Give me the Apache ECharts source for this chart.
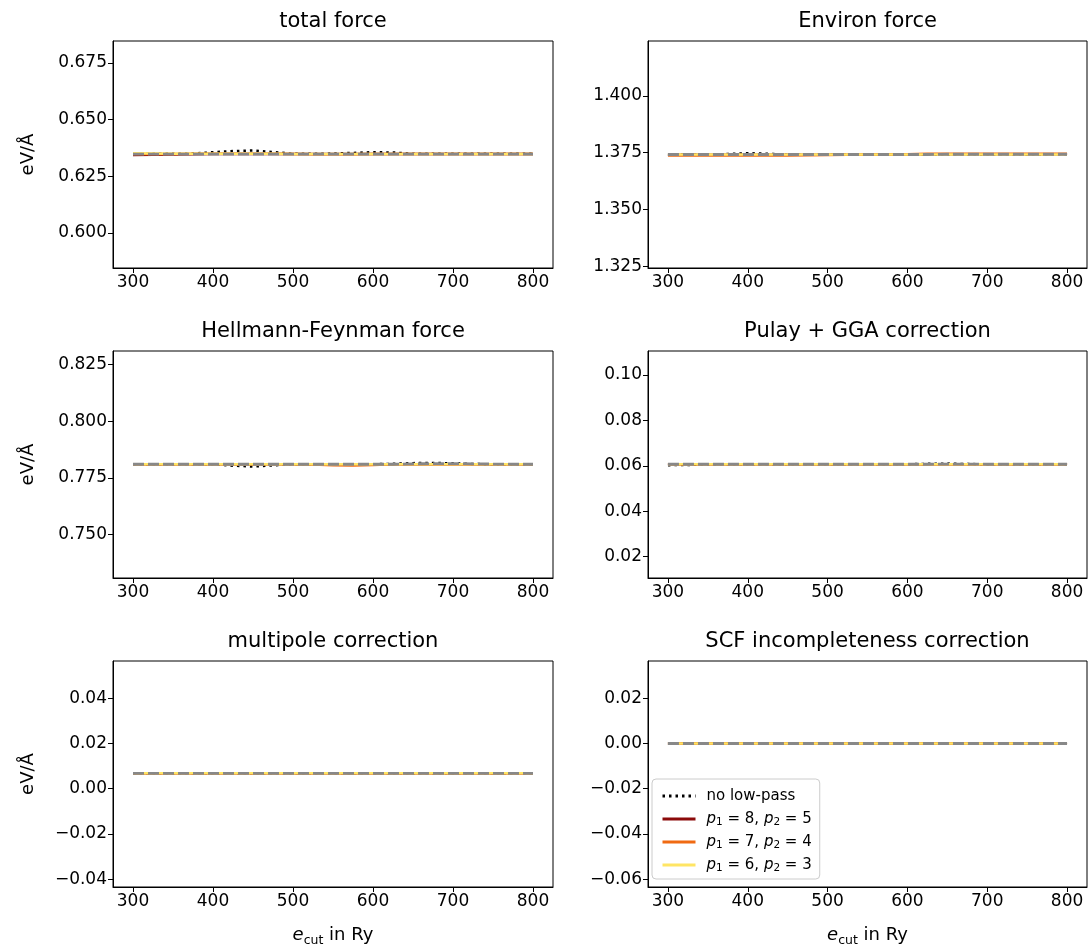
<!DOCTYPE html>
<html><head><meta charset="utf-8">
<script src="https://cdn.jsdelivr.net/npm/echarts@6/dist/echarts.min.js"></script>
<style>html,body{margin:0;padding:0;background:#fff}#c{width:1090px;height:948px}</style>
</head><body><div id="c"></div>
<script>
// x values (cutoff energy in Ry)
const ecut = [300,325,350,375,400,425,450,475,500,525,550,575,600,625,650,675,700,725,750,775,800];
const xTicks = [300,400,500,600,700,800];

// panel titles
const titles = ["total force","Environ force","Hellmann-Feynman force","Pulay + GGA correction","multipole correction","SCF incompleteness correction"];

// total force
const tfNoLP = [0.6348,0.6349,0.6349,0.6350,0.6356,0.6361,0.6364,0.6357,0.6349,0.6349,0.6350,0.6353,0.6356,0.6355,0.6349,0.6349,0.6349,0.6349,0.6349,0.6349,0.6349];
const tfP85  = [0.6344,0.6345,0.6346,0.6347,0.6348,0.6348,0.6348,0.6348,0.6348,0.6348,0.6348,0.6348,0.6348,0.6348,0.6348,0.6348,0.6348,0.6348,0.6348,0.6348,0.6348];
const tfP74  = [0.6348,0.6348,0.6348,0.6349,0.6349,0.6349,0.6349,0.6349,0.6348,0.6347,0.6347,0.6347,0.6348,0.6348,0.6348,0.6348,0.6348,0.6348,0.6348,0.6348,0.6348];
const tfP63  = [0.6351,0.6350,0.6349,0.6349,0.6349,0.6349,0.6349,0.6349,0.6348,0.6348,0.6348,0.6348,0.6348,0.6348,0.6348,0.6348,0.6348,0.6348,0.6348,0.6348,0.6348];
const tfRef  = [0.6348,0.6348,0.6348,0.6348,0.6348,0.6348,0.6348,0.6348,0.6348,0.6348,0.6348,0.6348,0.6348,0.6348,0.6348,0.6348,0.6348,0.6348,0.6348,0.6348,0.6348];

// Environ force
const efNoLP = [1.3742,1.3742,1.3742,1.3744,1.3748,1.3745,1.3742,1.3742,1.3742,1.3742,1.3742,1.3742,1.3742,1.3742,1.3742,1.3742,1.3742,1.3742,1.3742,1.3742,1.3742];
const efP85  = [1.3741,1.3741,1.3741,1.3741,1.3741,1.3741,1.3741,1.3741,1.3741,1.3741,1.3742,1.3742,1.3742,1.3743,1.3743,1.3743,1.3743,1.3743,1.3743,1.3743,1.3743];
const efP74  = [1.3738,1.3738,1.3738,1.3738,1.3738,1.3738,1.3738,1.3739,1.3740,1.3741,1.3741,1.3742,1.3743,1.3745,1.3745,1.3745,1.3745,1.3745,1.3745,1.3745,1.3745];
const efP63  = [1.3742,1.3742,1.3742,1.3742,1.3742,1.3742,1.3742,1.3742,1.3742,1.3742,1.3742,1.3742,1.3742,1.3742,1.3742,1.3742,1.3742,1.3742,1.3742,1.3742,1.3742];
const efRef  = [1.3742,1.3742,1.3742,1.3742,1.3742,1.3742,1.3742,1.3742,1.3742,1.3742,1.3742,1.3742,1.3742,1.3742,1.3743,1.3743,1.3743,1.3743,1.3743,1.3743,1.3743];

// Hellmann-Feynman force
const hfNoLP = [0.7810,0.7810,0.7810,0.7810,0.7810,0.7804,0.7800,0.7805,0.7810,0.7810,0.7810,0.7810,0.7810,0.7812,0.7815,0.7816,0.7814,0.7811,0.7810,0.7810,0.7810];
const hfP85  = [0.7810,0.7810,0.7810,0.7810,0.7810,0.7810,0.7810,0.7810,0.7810,0.7810,0.7810,0.7810,0.7810,0.7810,0.7810,0.7810,0.7810,0.7810,0.7810,0.7810,0.7810];
const hfP74  = [0.7810,0.7810,0.7810,0.7810,0.7810,0.7810,0.7810,0.7810,0.7810,0.7809,0.7806,0.7805,0.7807,0.7810,0.7810,0.7810,0.7810,0.7810,0.7810,0.7810,0.7810];
const hfP63  = [0.7810,0.7810,0.7810,0.7810,0.7810,0.7810,0.7810,0.7810,0.7810,0.7810,0.7810,0.7810,0.7810,0.7810,0.7810,0.7810,0.7810,0.7810,0.7810,0.7810,0.7810];
const hfRef  = [0.7810,0.7810,0.7810,0.7810,0.7810,0.7810,0.7810,0.7810,0.7810,0.7810,0.7810,0.7810,0.7810,0.7810,0.7812,0.7813,0.7813,0.7812,0.7811,0.7810,0.7810];

// Pulay + GGA correction
const pgNoLP = [0.0603,0.0604,0.0606,0.0607,0.0607,0.0607,0.0607,0.0607,0.0607,0.0607,0.0607,0.0607,0.0607,0.0609,0.0610,0.0608,0.0607,0.0607,0.0607,0.0607,0.0607];
const pgP85  = [0.0607,0.0607,0.0607,0.0607,0.0607,0.0607,0.0607,0.0607,0.0607,0.0607,0.0607,0.0607,0.0607,0.0607,0.0607,0.0607,0.0607,0.0607,0.0607,0.0607,0.0607];
const pgP74  = [0.0607,0.0607,0.0607,0.0607,0.0607,0.0607,0.0607,0.0607,0.0607,0.0607,0.0607,0.0607,0.0607,0.0607,0.0607,0.0607,0.0607,0.0607,0.0607,0.0607,0.0607];
const pgP63  = [0.0607,0.0607,0.0607,0.0607,0.0607,0.0607,0.0607,0.0607,0.0607,0.0607,0.0607,0.0607,0.0607,0.0607,0.0607,0.0607,0.0607,0.0607,0.0607,0.0607,0.0607];
const pgRef  = [0.0607,0.0607,0.0607,0.0607,0.0607,0.0607,0.0607,0.0607,0.0607,0.0607,0.0607,0.0607,0.0607,0.0607,0.0608,0.0608,0.0607,0.0607,0.0607,0.0607,0.0607];

// multipole correction
const mpNoLP = [0.0068,0.0068,0.0068,0.0068,0.0068,0.0068,0.0068,0.0068,0.0068,0.0068,0.0068,0.0068,0.0068,0.0068,0.0068,0.0068,0.0068,0.0068,0.0068,0.0068,0.0068];
const mpP85  = [0.0068,0.0068,0.0068,0.0068,0.0068,0.0068,0.0068,0.0068,0.0068,0.0068,0.0068,0.0068,0.0068,0.0068,0.0068,0.0068,0.0068,0.0068,0.0068,0.0068,0.0068];
const mpP74  = [0.0068,0.0068,0.0068,0.0068,0.0068,0.0068,0.0068,0.0068,0.0068,0.0068,0.0068,0.0068,0.0068,0.0068,0.0068,0.0068,0.0068,0.0068,0.0068,0.0068,0.0068];
const mpP63  = [0.0068,0.0068,0.0068,0.0068,0.0068,0.0068,0.0068,0.0068,0.0068,0.0068,0.0068,0.0068,0.0068,0.0068,0.0068,0.0068,0.0068,0.0068,0.0068,0.0068,0.0068];
const mpRef  = [0.0068,0.0068,0.0068,0.0068,0.0068,0.0068,0.0068,0.0068,0.0068,0.0068,0.0068,0.0068,0.0068,0.0068,0.0068,0.0068,0.0068,0.0068,0.0068,0.0068,0.0068];

// SCF incompleteness correction
const scNoLP = [0,0,0,0,0,0,0,0,0,0,0,0,0,0,0,0,0,0,0,0,0];
const scP85  = [0,0,0,0,0,0,0,0,0,0,0,0,0,0,0,0,0,0,0,0,0];
const scP74  = [0,0,0,0,0,0,0,0,0,0,0,0,0,0,0,0,0,0,0,0,0];
const scP63  = [0,0,0,0,0,0,0,0,0,0,0,0,0,0,0,0,0,0,0,0,0];
const scRef  = [0,0,0,0,0,0,0,0,0,0,0,0,0,0,0,0,0,0,0,0,0];

// axis ranges and ticks
const yMin = [0.5846, 1.3242, 0.7309, 0.0106, -0.0435, -0.0635];
const yMax = [0.6846, 1.4242, 0.8309, 0.1106, 0.0565, 0.0365];
const yTicks = [
  [0.600,0.625,0.650,0.675],
  [1.325,1.350,1.375,1.400],
  [0.750,0.775,0.800,0.825],
  [0.02,0.04,0.06,0.08,0.10],
  [-0.04,-0.02,0.00,0.02,0.04],
  [-0.06,-0.04,-0.02,0.00,0.02]
];
const yDecimals = [3,3,3,2,2,2];

const seriesNames = ["no low-pass","p85","p74","p63"];
const panelData = [
  [tfNoLP,tfP85,tfP74,tfP63,tfRef],
  [efNoLP,efP85,efP74,efP63,efRef],
  [hfNoLP,hfP85,hfP74,hfP63,hfRef],
  [pgNoLP,pgP85,pgP74,pgP63,pgRef],
  [mpNoLP,mpP85,mpP74,mpP63,mpRef],
  [scNoLP,scP85,scP74,scP63,scRef]
];

const FONT = "DejaVu Sans";
const TICK = 17, TITLE = 21, LABEL = 18, LEG = 15;
const colors = ["#000000","#8b0a0a","#f06a12","#ffe564","#888888"];
const gridLeft = [113, 648], gridW = [440, 439];
const gridTop = [41, 351, 661], gridH = 227;

const grids = [], xAxes = [], yAxes = [], series = [], graphics = [];
for (let p = 0; p < 6; p++) {
  const col = p % 2, row = Math.floor(p / 2);
  grids.push({left: gridLeft[col], top: gridTop[row], width: gridW[col], height: gridH,
    show: true, borderColor: "#000", borderWidth: 1, backgroundColor: "#fff", containLabel: false});
  const xa = {gridIndex: p, type: "value", min: 275, max: 825,
    axisLine: {show: true, onZero: false, lineStyle: {color: "#000", width: 1}},
    axisTick: {show: true, length: 5, customValues: xTicks, lineStyle: {color: "#000"}},
    axisLabel: {customValues: xTicks, color: "#000", fontFamily: FONT, fontSize: TICK, margin: 6},
    splitLine: {show: false}};
  if (row === 2) {
    xa.name = "{i|e}{s|cut}{t| in Ry}";
    xa.nameLocation = "middle";
    xa.nameGap = 37;
    xa.nameTextStyle = {color: "#000", fontFamily: FONT, fontSize: LABEL,
      rich: {t: {fontFamily: FONT, fontSize: LABEL, color: "#000", lineHeight: 23},
             i: {fontStyle: "italic", fontFamily: FONT, fontSize: LABEL, color: "#000", lineHeight: 23},
             s: {fontFamily: FONT, fontSize: 12.5, color: "#000", verticalAlign: "bottom", lineHeight: 23}}};
  }
  xAxes.push(xa);
  const dec = yDecimals[p];
  const ya = {gridIndex: p, type: "value", min: yMin[p], max: yMax[p],
    axisLine: {show: true, onZero: false, lineStyle: {color: "#000", width: 1}},
    axisTick: {show: true, length: 5, customValues: yTicks[p], lineStyle: {color: "#000"}},
    axisLabel: {customValues: yTicks[p], color: "#000", fontFamily: FONT, fontSize: TICK, margin: 6,
      formatter: v => (v < -1e-9 ? "\u2212" : "") + Math.abs(v).toFixed(dec)},
    splitLine: {show: false}};
  if (col === 0) {
    ya.name = "eV/Å";
    ya.nameLocation = "middle";
    ya.nameRotate = 90;
    ya.nameGap = 76;
    ya.nameTextStyle = {color: "#000", fontFamily: FONT, fontSize: LABEL};
  }
  yAxes.push(ya);
  for (let s = 0; s < 5; s++) {
    const d = panelData[p][s].map((v, i) => [ecut[i], v]);
    let ls;
    if (s === 0) ls = {color: colors[0], width: 2.5, type: [2.5, 4]};
    else if (s === 4) ls = {color: colors[4], width: 2.8, type: [11, 4]};
    else ls = {color: colors[s], width: 2.5};
    series.push({type: "line", name: s < 4 ? seriesNames[s] : "reference",
      xAxisIndex: p, yAxisIndex: p, data: d, symbol: "none", showSymbol: false,
      lineStyle: ls, itemStyle: {color: colors[s]}, animation: false, silent: true, z: 2 + s});
  }
  graphics.push({type: "text", x: gridLeft[col] + gridW[col] / 2, y: gridTop[row] - 19,
    style: {text: titles[p], textAlign: "center", textVerticalAlign: "middle",
      fontFamily: FONT, fontSize: TITLE, fill: "#000"}});
}

const legendRich = {
  g: {width: 6},
  t: {fontFamily: FONT, fontSize: LEG, color: "#000", lineHeight: 18},
  i: {fontFamily: FONT, fontSize: LEG, fontStyle: "italic", color: "#000", lineHeight: 18},
  s: {fontFamily: FONT, fontSize: 10.5, color: "#000", verticalAlign: "bottom", lineHeight: 18}
};
const legendLabels = {
  "no low-pass": "{g|}{t|no low-pass}",
  "p85": "{g|}{i|p}{s|1}{t| = 8, }{i|p}{s|2}{t| = 5}",
  "p74": "{g|}{i|p}{s|1}{t| = 7, }{i|p}{s|2}{t| = 4}",
  "p63": "{g|}{i|p}{s|1}{t| = 6, }{i|p}{s|2}{t| = 3}"
};

const chart = echarts.init(document.getElementById("c"), null, {renderer: "canvas"});
chart.setOption({
  backgroundColor: "#fff",
  animation: false,
  grid: grids, xAxis: xAxes, yAxis: yAxes, series: series,
  graphic: graphics,
  legend: {data: seriesNames, orient: "vertical", left: 652, top: 779,
    itemWidth: 33, itemHeight: 14, itemGap: 3,
    padding: [7, 8, 4, 9], borderColor: "#cccccc", borderWidth: 1, borderRadius: 4,
    backgroundColor: "rgba(255,255,255,0.85)",
    itemStyle: {opacity: 0},
    lineStyle: {width: 3},
    formatter: n => legendLabels[n],
    textStyle: {fontFamily: FONT, fontSize: LEG, color: "#000", rich: legendRich, lineHeight: 18, padding: [1, 0, 1, 0]}}
});
</script></body></html>
